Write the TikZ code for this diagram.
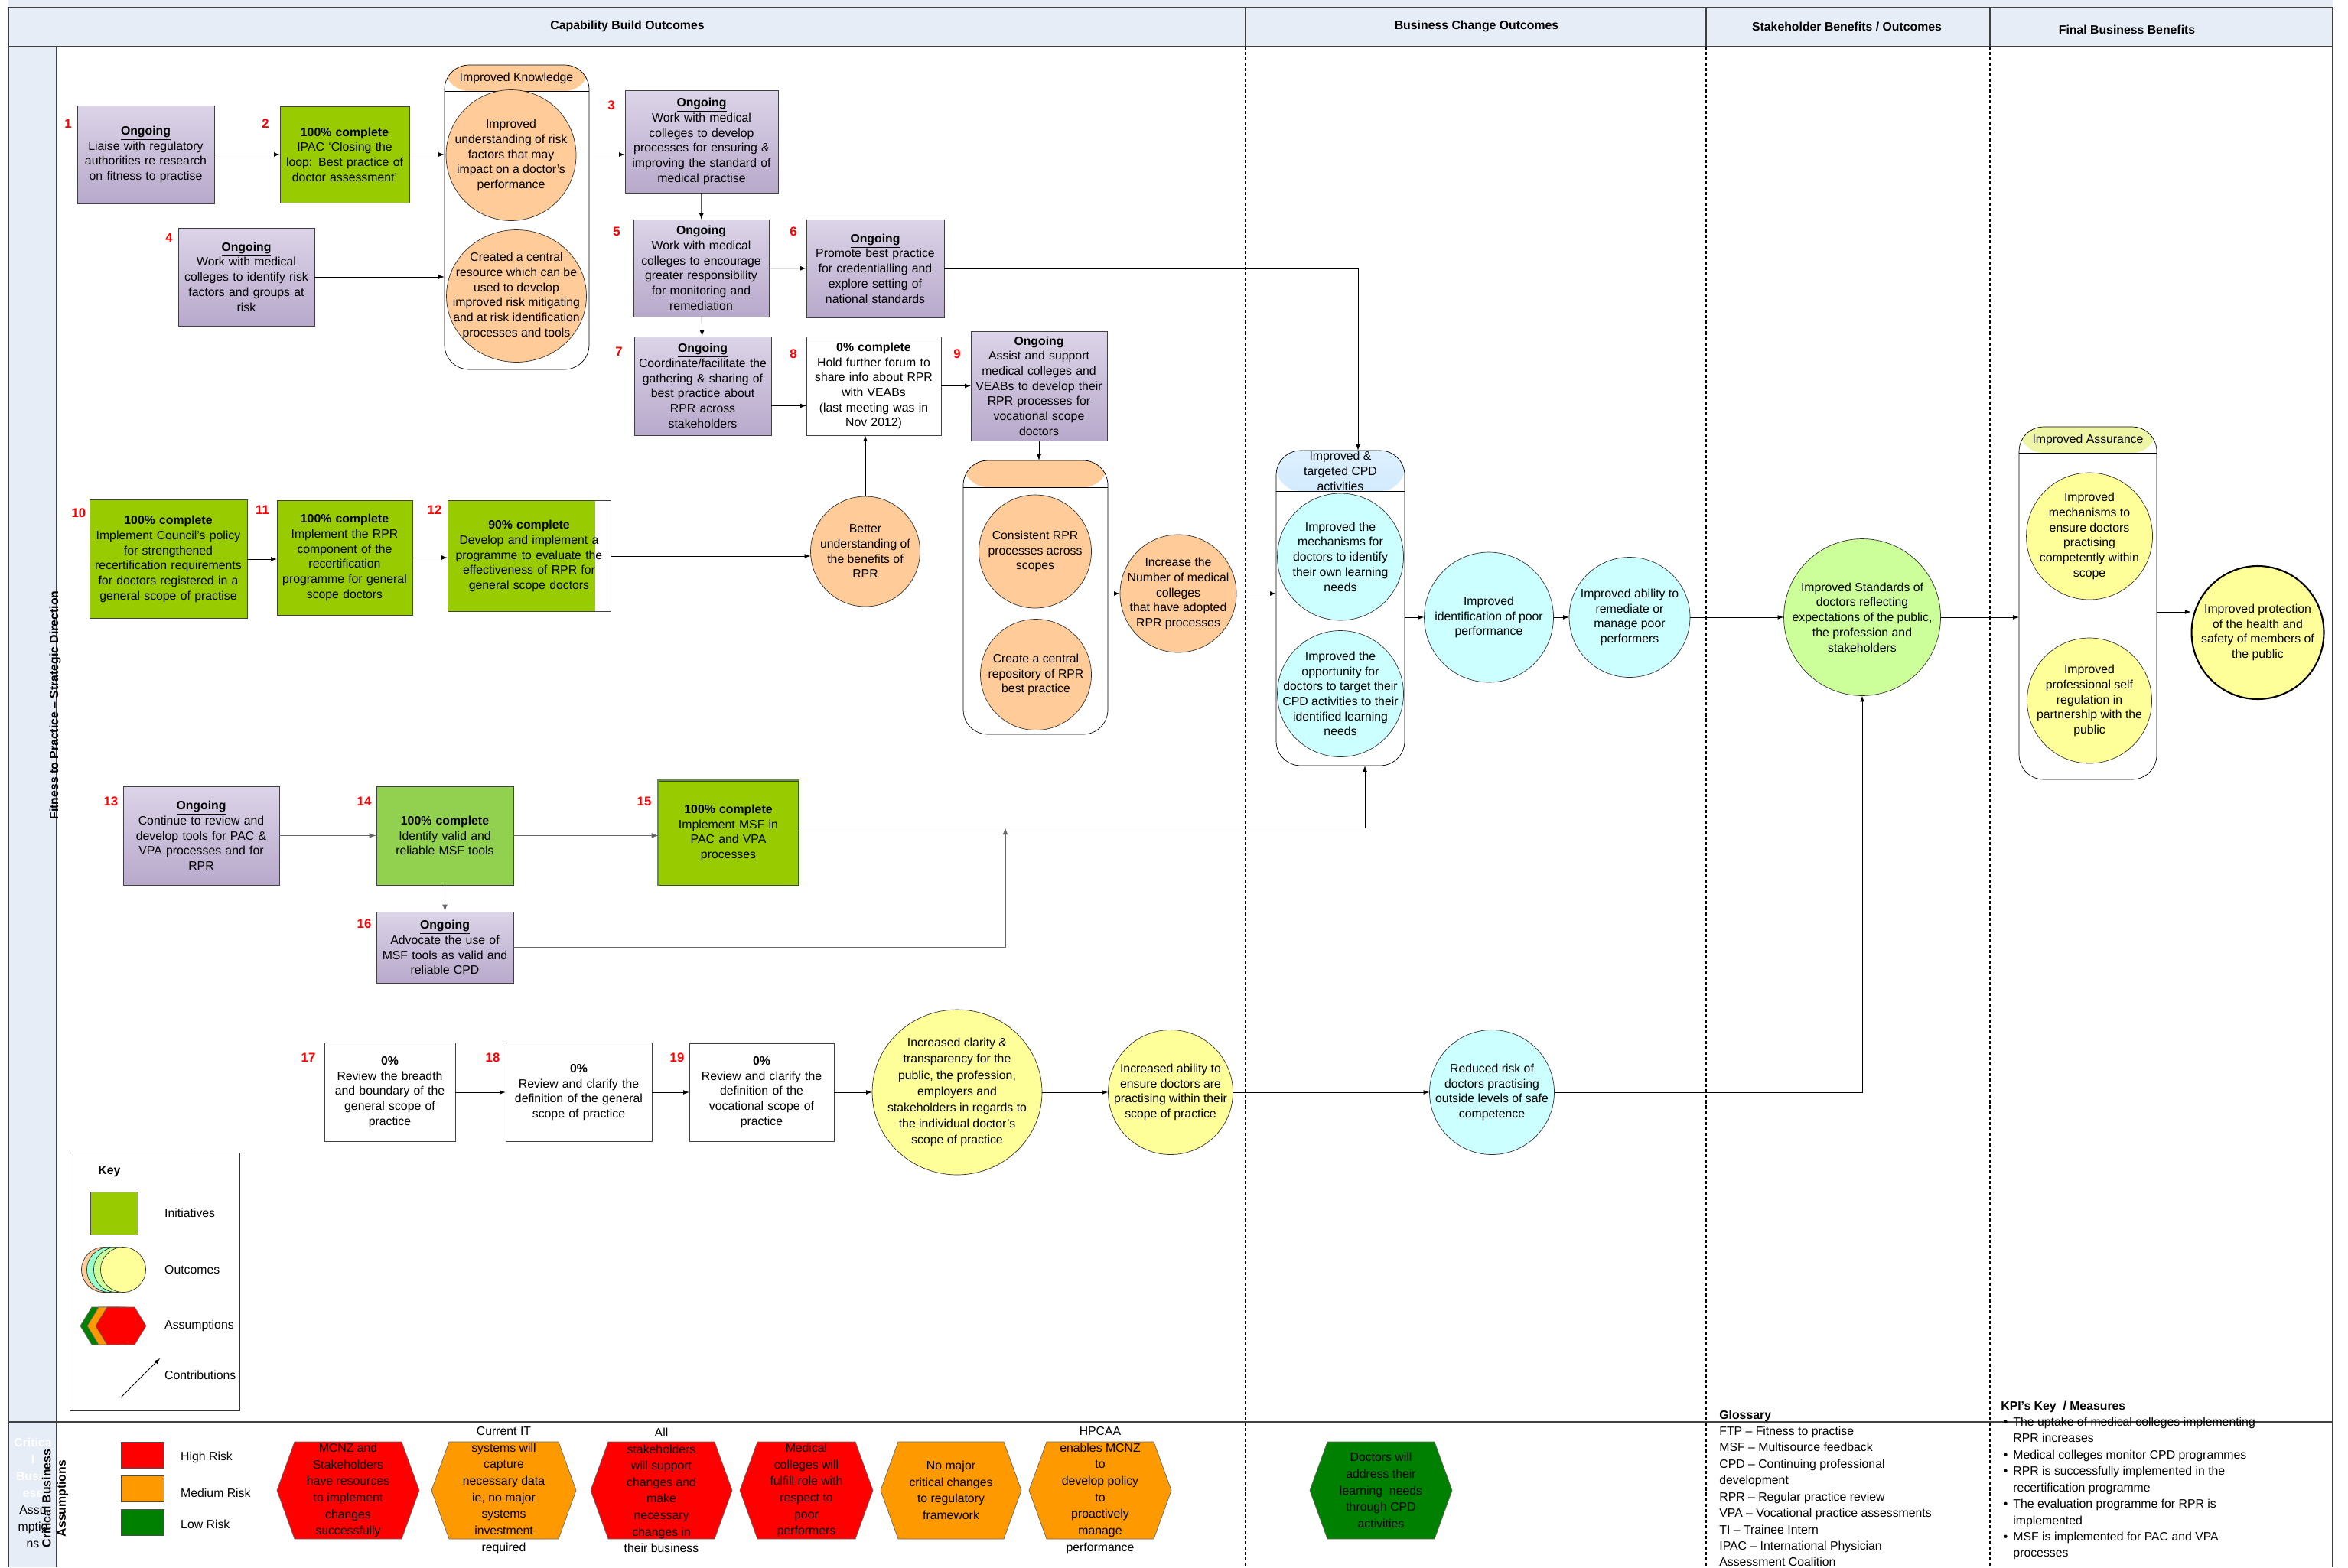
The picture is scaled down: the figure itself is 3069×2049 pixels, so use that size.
\documentclass[tikz,border=0pt]{standalone}
\usepackage{fontspec}
\setmainfont{Liberation Sans}
\usetikzlibrary{shapes.geometric,arrows,calc,positioning}

\definecolor{hdrblue}{HTML}{E6EDF7}
\definecolor{framegray}{HTML}{404040}
\definecolor{ptop}{HTML}{DCD4E8}
\definecolor{pbot}{HTML}{B7A9CB}
\definecolor{initgreen}{HTML}{99CC00}
\definecolor{litgreen}{HTML}{92D050}
\definecolor{orng}{HTML}{FFCC99}
\definecolor{cyn}{HTML}{CCFFFF}
\definecolor{lgrn}{HTML}{CCFF99}
\definecolor{ylw}{HTML}{FFFF99}
\definecolor{keycyan}{HTML}{99FFCC}
\definecolor{riskred}{HTML}{FF0000}
\definecolor{riskorange}{HTML}{FF9900}
\definecolor{riskgreen}{HTML}{008000}
\definecolor{cpdtop}{HTML}{DDF0FF}
\definecolor{cpdbot}{HTML}{8CC8F8}
\definecolor{assurehd}{HTML}{EEF6A6}

\newcommand{\boxfs}{\fontsize{9}{11.2}\selectfont}
\newcommand{\hexfs}{\fontsize{9}{12.3}\selectfont}
\newcommand{\listfs}{\fontsize{9}{12.2}\selectfont}
\newcommand{\numfs}{\fontsize{9.5}{11}\selectfont\bfseries}
\newcommand{\ongo}{\underline{\textbf{Ongoing}}}

\begin{document}
\begin{tikzpicture}[x=0.02cm, y=-0.02cm, >=latex, font=\boxfs,
  frame/.style={draw=framegray, line width=1pt},
  divline/.style={draw=black, line width=1.1pt, dash pattern=on 2.3pt off 1.7pt},
  box/.style={rectangle, draw=black!75, text width=3.51cm, minimum height=2.56cm, align=center, inner sep=1pt},
  ongo/.style={box, top color=ptop, bottom color=pbot},
  init/.style={box, fill=initgreen},
  plain/.style={box, fill=white},
  outc/.style={ellipse, draw=black!80, inner sep=0pt},
  lab/.style={align=center, font=\boxfs, inner sep=0pt},
  cont/.style={rectangle, draw=black, rounded corners=0.64cm, inner sep=0pt, fill=white},
  hdfill/.style 2 args={path picture={
    \fill[#1] (path picture bounding box.north west) rectangle ([yshift=-#2]path picture bounding box.north east);
    \draw ([yshift=-#2]path picture bounding box.north west) -- ([yshift=-#2]path picture bounding box.north east);}},
  num/.style={text=red, font=\numfs},
  hdr/.style={font=\boxfs\bfseries},
  arr/.style={->, draw=black, line width=0.5pt},
  garr/.style={->, draw=black!60, line width=0.8pt},
  hextxt/.style={align=center, font=\hexfs},
  keytxt/.style={anchor=west, font=\boxfs}]

\useasboundingbox (0,0) rectangle (3069,2049);

% lanes and frame
\fill[hdrblue] (11,0) rectangle (3049,61);
\fill[hdrblue] (11,61) rectangle (74,2049);
\draw[frame] (11,10) -- (3049,10) (11,61) -- (3049,61) (11,1859) -- (3049,1859);
\draw[frame] (11,10) -- (11,2049) (74,61) -- (74,2049) (3049,10) -- (3049,2049);
\foreach \lx in {1628,2230,2601} {
  \draw[frame] (\lx,10) -- (\lx,61);
  \draw[divline] (\lx,61) -- (\lx,2049);
}
\node[hdr] (hcap) at (820,34) {Capability Build Outcomes};
\node[hdr] (hbus) at (1930,34) {Business Change Outcomes};
\node[hdr] (hstk) at (2414,35) {Stakeholder Benefits / Outcomes};
\node[hdr] (hfin) at (2780,39) {Final Business Benefits};
\node[rotate=90, font=\boxfs\bfseries] (ftp) at (72,922) {Fitness to Practice – Strategic Direction};
\node[align=center, font=\fontsize{9}{12.5}\selectfont] (cbw) at (43,1952)
  {\textcolor{white}{\textbf{Critica}}\\\textcolor{white}{\textbf{l}}\\\textcolor{white}{\textbf{Busin}}\\\textcolor{white}{\textbf{ess}}\\Assu\\mptio\\ns};
\node[rotate=90, align=center, font=\fontsize{9}{11}\selectfont\bfseries] (cba) at (72,1959) {Critical Business\\Assumptions};

% groups of outcomes
\node[cont, hdfill={orng}{0.68cm}, minimum width=3.78cm, minimum height=7.96cm] (know) at (675.5,284) {};
\node (knowT) at (675,102) {Improved Knowledge};
\node[cont, hdfill={orng}{0.7cm}, minimum width=3.78cm, minimum height=7.16cm] (rprc) at (1353.5,781) {};
\node[cont, hdfill={top color=cpdtop, bottom color=cpdbot}{1.06cm}, minimum width=3.36cm, minimum height=8.24cm] (cpd) at (1752,795) {};
\node[align=center] (cpdT) at (1752,616) {Improved \&\\targeted CPD\\activities};
\node[cont, hdfill={assurehd}{0.68cm}, minimum width=3.6cm, minimum height=9.22cm] (assure) at (2729,788.5) {};
\node (assureT) at (2729,575) {Improved Assurance};

% initiatives
\node[ongo] (b1) at (190.5,202) {\ongo\\Liaise with regulatory\\authorities re research\\on fitness to practise};
\node[init, text width=3.31cm, minimum height=2.52cm] (b2) at (450.5,202) {\textbf{100\% complete}\\IPAC ‘Closing the\\loop: Best practice of\\doctor assessment’};
\node[ongo, text width=3.93cm, minimum height=2.68cm] (b3) at (917,185) {\ongo\\Work with medical\\colleges to develop\\processes for ensuring \&\\improving the standard of\\medical practise};
\node[ongo, text width=3.49cm] (b4) at (322,362) {\ongo\\Work with medical\\colleges to identify risk\\factors and groups at\\risk};
\node[ongo, text width=3.47cm, minimum height=2.54cm] (b5) at (916.5,350.5) {\ongo\\Work with medical\\colleges to encourage\\greater responsibility\\for monitoring and\\remediation};
\node[ongo, text width=3.53cm] (b6) at (1144,351) {\ongo\\Promote best practice\\for credentialling and\\explore setting of\\national standards};
\node[ongo, minimum height=2.58cm] (b7) at (918.5,504.5) {\ongo\\Coordinate/facilitate the\\gathering \& sharing of\\best practice about\\RPR across\\stakeholders};
\node[plain, text width=3.45cm, minimum height=2.58cm] (b8) at (1142,504.5) {\textbf{0\% complete}\\Hold further forum to\\share info about RPR\\with VEABs\\(last meeting was in\\Nov 2012)};
\node[ongo, text width=3.49cm, minimum height=2.86cm] (b9) at (1358,504.5) {\ongo\\Assist and support\\medical colleges and\\VEABs to develop their\\RPR processes for\\vocational scope\\doctors};
\node[init, text width=4.05cm, minimum height=3.1cm] (b10) at (220,731) {\textbf{100\% complete}\\Implement Council’s policy\\for strengthened\\recertification requirements\\for doctors registered in a\\general scope of practise};
\node[init, text width=3.47cm, minimum height=3.0cm] (b11) at (450.5,729) {\textbf{100\% complete}\\Implement the RPR\\component of the\\recertification\\programme for general\\scope doctors};
\node[plain, text width=4.19cm, minimum height=2.9cm, path picture={
  \fill[initgreen] (path picture bounding box.south west) rectangle ([xshift=-0.4cm]path picture bounding box.north east);}]
  (b12) at (691.5,727) {\textbf{90\% complete}\\Develop and implement a\\programme to evaluate the\\effectiveness of RPR for\\general scope doctors};
\node[ongo, text width=4.01cm, minimum height=2.58cm] (b13) at (263,1092.5) {\ongo\\Continue to review and\\develop tools for PAC \&\\VPA processes and for\\RPR};
\node[box, fill=litgreen, minimum height=2.58cm] (b14) at (581.5,1092.5) {\textbf{100\% complete}\\Identify valid and\\reliable MSF tools};
\node[init, text width=3.57cm, minimum height=2.72cm, preaction={draw=litgreen!70!black, line width=2.5pt}] (b15) at (952,1089) {\textbf{100\% complete}\\Implement MSF in\\PAC and VPA\\processes};
\node[ongo, minimum height=1.86cm] (b16) at (581.5,1238.5) {\ongo\\Advocate the use of\\MSF tools as valid and\\reliable CPD};
\node[plain, text width=3.35cm, minimum height=2.58cm] (b17) at (509.5,1428) {\textbf{0\%}\\Review the breadth\\and boundary of the\\general scope of\\practice};
\node[plain, text width=3.75cm, minimum height=2.58cm] (b18) at (756.5,1428) {\textbf{0\%}\\Review and clarify the\\definition of the general\\scope of practice};
\node[plain, text width=3.71cm] (b19) at (995.5,1428) {\textbf{0\%}\\Review and clarify the\\definition of the\\vocational scope of\\practice};

\foreach \n/\xx/\yy in {1/89/162, 2/347/162, 3/799/138, 4/221/311, 5/806/303, 6/1037/303, 7/809/460,
  8/1037/463, 9/1251/463, 10/103/671, 11/343/667, 12/568/667, 13/145/1048, 14/476/1048,
  15/842/1048, 16/476/1208, 17/403/1383, 18/644/1383, 19/885/1383}
  \node[num] (n\n) at (\xx,\yy) {\n};

% outcomes
\node[outc, fill=orng, minimum width=3.4cm, minimum height=3.42cm,
  label={[lab]center:{Improved\\understanding of risk\\factors that may\\impact on a doctor’s\\performance}}] (kRisk) at (668,203) {};
\node[outc, fill=orng, minimum width=3.66cm, minimum height=3.46cm,
  label={[lab]center:{Created a central\\resource which can be\\used to develop\\improved risk mitigating\\and at risk identification\\processes and tools}}] (kRes) at (675,387) {};
\node[outc, fill=orng, minimum width=2.86cm, minimum height=2.88cm,
  label={[lab]center:{Better\\understanding of\\the benefits of\\RPR}}] (better) at (1131,721) {};
\node[outc, fill=orng, minimum width=2.94cm, minimum height=2.96cm,
  label={[lab]center:{Consistent RPR\\processes across\\scopes}}] (consist) at (1353,721) {};
\node[outc, fill=orng, minimum width=2.9cm, minimum height=2.9cm,
  label={[lab]center:{Create a central\\repository of RPR\\best practice}}] (repos) at (1354,882) {};
\node[outc, fill=orng, minimum width=3.04cm, minimum height=3.08cm,
  label={[lab]center:{Increase the\\Number of medical\\colleges\\that have adopted\\RPR processes}}] (incr) at (1540,776) {};
\node[outc, fill=cyn, minimum width=3.3cm, minimum height=3.32cm,
  label={[lab]center:{Improved the\\mechanisms for\\doctors to identify\\their own learning\\needs}}] (mech) at (1752,728) {};
\node[outc, fill=cyn, minimum width=3.3cm, minimum height=3.3cm,
  label={[lab]center:{Improved the\\opportunity for\\doctors to target their\\CPD activities to their\\identified learning\\needs}}] (oppor) at (1752,907) {};
\node[outc, fill=cyn, minimum width=3.38cm, minimum height=3.4cm,
  label={[lab]center:{Improved\\identification of poor\\performance}}] (ident) at (1946,807) {};
\node[outc, fill=cyn, minimum width=3.16cm, minimum height=3.14cm,
  label={[lab]center:{Improved ability to\\remediate or\\manage poor\\performers}}] (remed) at (2130,807) {};
\node[outc, fill=lgrn, minimum width=4.1cm, minimum height=4.1cm,
  label={[lab]center:{Improved Standards of\\doctors reflecting\\expectations of the public,\\the profession and\\stakeholders}}] (stand) at (2434,807) {};
\node[outc, fill=ylw, minimum width=3.3cm, minimum height=3.32cm,
  label={[lab]center:{Improved\\mechanisms to\\ensure doctors\\practising\\competently within\\scope}}] (assur1) at (2731,701) {};
\node[outc, fill=ylw, minimum width=3.26cm, minimum height=3.28cm,
  label={[lab]center:{Improved\\professional self\\regulation in\\partnership with the\\public}}] (assur2) at (2731,916) {};
\node[outc, fill=ylw, line width=1.2pt, draw=black, minimum width=3.46cm, minimum height=3.48cm,
  label={[lab]center:{Improved protection\\of the health and\\safety of members of\\the public}}] (protect) at (2951,827) {};
\node[outc, fill=ylw, minimum width=4.44cm, minimum height=4.32cm,
  label={[lab, font=\fontsize{9}{12}\selectfont]center:{Increased clarity \&\\transparency for the\\public, the profession,\\employers and\\stakeholders in regards to\\the individual doctor’s\\scope of practice}}] (clarity) at (1251,1428) {};
\node[outc, fill=ylw, minimum width=3.26cm, minimum height=3.26cm,
  label={[lab]center:{Increased ability to\\ensure doctors are\\practising within their\\scope of practice}}] (ability) at (1530,1428) {};
\node[outc, fill=cyn, minimum width=3.26cm, minimum height=3.26cm,
  label={[lab]center:{Reduced risk of\\doctors practising\\outside levels of safe\\competence}}] (reduced) at (1950,1428) {};

% contributions
\draw[arr] (b1) -- (b2);
\draw[arr] (b2) -- (know.west |- b2);
\draw[arr] (b4) -- (know.west |- b4);
\draw[arr, shorten <=0.12cm] (know.east |- b2) -- (b3.west |- b2);
\draw[arr] (b3) -- (b5);
\draw[arr] (b5) -- (b6);
\draw[arr] (b5) -- (b7);
\coordinate (b7o) at ([yshift=-0.52cm]b7.east);
\draw[arr] (b7o) -- (b7o -| b8.west);
\draw[arr] (b8) -- (b9);
\draw[arr] (better) -- (better |- b8.south);
\draw[arr] (b9.south) -- (b9.south |- rprc.north);
\draw[arr] (b10) -- (b11.west |- b10);
\draw[arr] (b11) -- (b12.west |- b11);
\draw[arr] (b12) -- (better.west |- b12);
\draw[arr] (rprc.east |- incr) -- (incr);
\draw[arr] (incr) -- (cpd.west |- incr);
\draw[arr] (b6) -| ([xshift=0.46cm]cpd.north);
\draw[arr] (cpd.east |- ident) -- (ident);
\draw[arr] (ident) -- (remed);
\draw[arr] (remed) -- (stand);
\draw[arr] (stand) -- (assure.west |- stand);
\coordinate (aso) at ([yshift=-0.23cm]assure.east);
\draw[arr] (aso) -- (aso -| protect.west);

\draw[garr] (b13) -- (b14);
\draw[garr] (b14) -- (b15.west |- b14);
\draw[garr] (b14) -- (b16);
\coordinate (b15o) at ([yshift=0.14cm]b15.east);
\draw[arr] (b15o) -| ([xshift=0.64cm]cpd.south);
\coordinate (j1) at (1314,1082);
\draw[garr] (b16) -| (j1);

\draw[arr] (b17) -- (b18);
\draw[arr] (b18) -- (b19);
\draw[arr] (b19) -- (clarity);
\draw[arr] (clarity) -- (ability);
\draw[arr] (ability) -- (reduced);
\draw[arr] (reduced) -| (stand);

% key
\node[draw=black!80, minimum width=4.44cm, minimum height=6.74cm, inner sep=0pt] (keybox) at (202,1675.5) {};
\node[font=\boxfs\bfseries] (keyT) at (143,1532) {Key};
\node[draw=black!70, fill=initgreen, minimum width=1.24cm, minimum height=1.12cm, inner sep=0pt] (kinit) at (149,1586) {};
\node[keytxt] (kinitT) at (209,1586) {Initiatives};
\foreach \cx/\col in {136/orng, 143/keycyan, 152/lgrn, 161/ylw}
  \node[outc, fill=\col, minimum size=1.18cm] (ko\cx) at (\cx,1660) {};
\node[keytxt] (koutT) at (209,1660) {Outcomes};
\foreach \xa/\xb/\col in {105/171/riskgreen, 114/180/riskorange, 125/191/riskred}
  \filldraw[fill=\col, draw=black!60] (\xa,1733.5) -- (\xa+15,1709) -- (\xb-15,1709) -- (\xb,1733.5) -- (\xb-15,1758) -- (\xa+15,1758) -- cycle;
\node[keytxt] (kassT) at (209,1733) {Assumptions};
\coordinate (kc1) at (158,1827);
\coordinate (kc2) at (209,1776);
\draw[arr] (kc1) -- (kc2);
\node[keytxt] (kconT) at (209,1798) {Contributions};

% assumptions
\node[draw=black!70, fill=riskred, minimum width=1.12cm, minimum height=0.68cm, inner sep=0pt] (lhigh) at (186,1902) {};
\node[draw=black!70, fill=riskorange, minimum width=1.12cm, minimum height=0.68cm, inner sep=0pt] (lmed) at (186,1946) {};
\node[draw=black!70, fill=riskgreen, minimum width=1.12cm, minimum height=0.68cm, inner sep=0pt] (llow) at (186,1990) {};
\node[keytxt] (lhighT) at (230,1905) {High Risk};
\node[keytxt] (lmedT) at (230,1952) {Medium Risk};
\node[keytxt] (llowT) at (230,1993) {Low Risk};

\foreach \xa/\xb/\col/\nm in {362/548/riskred/h1, 564/753/riskorange/h2, 772/957/riskred/h3,
  967/1141/riskred/h4, 1151/1335/riskorange/h5, 1345/1531/riskorange/h6, 1712/1898/riskgreen/h7} {
  \filldraw[fill=\col, draw=black!60] (\xa,1948.5) -- (\xa+23,1885) -- (\xb-23,1885) -- (\xb,1948.5) -- (\xb-23,2012) -- (\xa+23,2012) -- cycle;
  \coordinate (\nm) at ({(\xa+\xb)/2},1948.5);
}
\node[hextxt] (h1t) at (h1) {MCNZ and\\Stakeholders\\have resources\\to implement\\changes\\successfully};
\node[hextxt] (h2t) at (h2) {Current IT\\systems will\\capture\\necessary data\\ie, no major\\systems\\investment\\required};
\node[hextxt] (h3t) at (h3) {All\\stakeholders\\will support\\changes and\\make\\necessary\\changes in\\their business};
\node[hextxt] (h4t) at (h4) {Medical\\colleges will\\fulfill role with\\respect to\\poor\\performers};
\node[hextxt] (h5t) at (h5) {No major\\critical changes\\to regulatory\\framework};
\node[hextxt] (h6t) at (h6) {HPCAA\\enables MCNZ\\to\\develop policy\\to\\proactively\\manage\\performance};
\node[hextxt] (h7t) at (h7) {Doctors will\\address their\\learning\ \ needs\\through CPD\\activities};

\node[anchor=base west, inner sep=0pt, font=\listfs] (gloss) at (2247,1855) {\begin{tabular}[t]{@{}l@{}}
  \textbf{Glossary}\\
  FTP – Fitness to practise\\
  MSF – Multisource feedback\\
  CPD – Continuing professional\\
  development\\
  RPR – Regular practice review\\
  VPA – Vocational practice assessments\\
  TI – Trainee Intern\\
  IPAC – International Physician\\
  Assessment Coalition
\end{tabular}};
\node[anchor=base west, inner sep=0pt, font=\listfs] (kpi) at (2615,1843) {\begin{tabular}[t]{@{}l@{\hspace{4pt}}l@{}}
  \multicolumn{2}{@{}l@{}}{\textbf{KPI’s Key\ \ / Measures}}\\
  \hspace{2pt}\textbullet & The uptake of medical colleges implementing\\
  & RPR increases\\
  \hspace{2pt}\textbullet & Medical colleges monitor CPD programmes\\
  \hspace{2pt}\textbullet & RPR is successfully implemented in the\\
  & recertification programme\\
  \hspace{2pt}\textbullet & The evaluation programme for RPR is\\
  & implemented\\
  \hspace{2pt}\textbullet & MSF is implemented for PAC and VPA\\
  & processes
\end{tabular}};
\end{tikzpicture}
\end{document}
